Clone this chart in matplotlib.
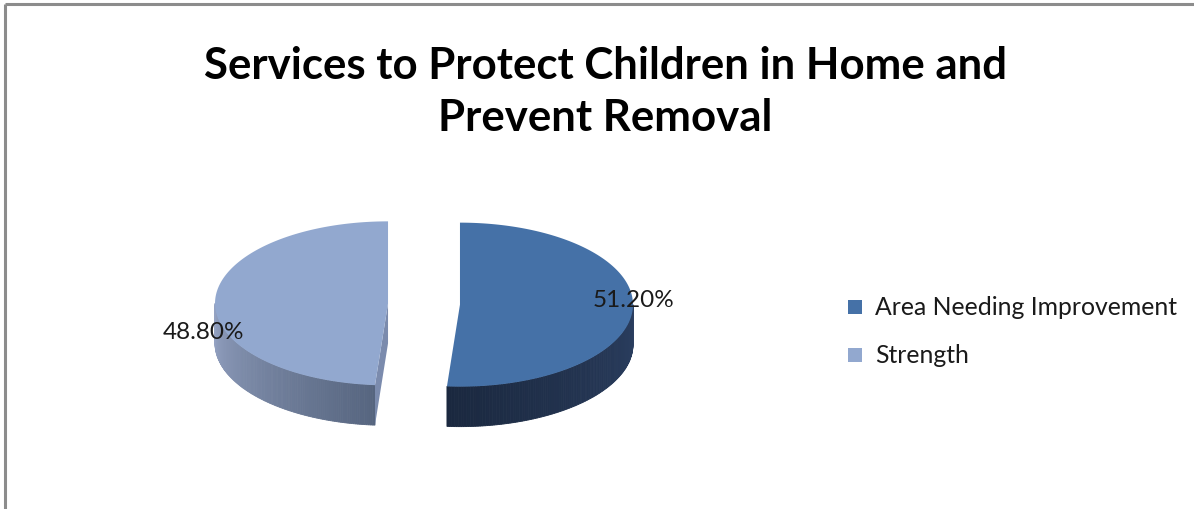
import numpy as np
import matplotlib

matplotlib.use("Agg")
import matplotlib.pyplot as plt
from matplotlib.patches import Polygon, Rectangle

TITLE = "Services to Protect Children in Home and\nPrevent Removal"
categories = ["Area Needing Improvement", "Strength"]
values = [51.2, 48.8]

TOP_COLORS = ["#4571A7", "#92A8CF"]
WALL_LEFT = ["#2B3F61", "#94A2C2"]
WALL_RIGHT = ["#1A283F", "#56657F"]
CUT_COLOR = "#7B8BAD"

# pie geometry in pixel space (y grows downwards)
CX, CY = 424, 305
RX, RY = 173, 82
DEPTH = 40
EXPLODE = 36

FONT = ["Lato", "DejaVu Sans"]


def rim(cx, cy, phi):
    # phi in degrees, clockwise from 12 o'clock
    p = np.radians(phi)
    return cx + RX * np.sin(p), cy - RY * np.cos(p)


def mix(c1, c2, t):
    a = np.array(matplotlib.colors.to_rgb(c1))
    b = np.array(matplotlib.colors.to_rgb(c2))
    return tuple(a + (b - a) * t)


fig = plt.figure(figsize=(11.94, 5.10), dpi=100)
ax = fig.add_axes([0, 0, 1, 1])
ax.set_xlim(0, 1194)
ax.set_ylim(510, 0)
ax.axis("off")

# chart frame (top and left edges only)
ax.plot([5, 1194], [5, 5], color="#8C8C8C", lw=2.2, solid_capstyle="butt")
ax.plot([5, 5], [5, 510], color="#8C8C8C", lw=2.2, solid_capstyle="butt")

total = sum(values)
start = 0.0
slices = []
for i, v in enumerate(values):
    sweep = 360.0 * v / total
    mid = start + sweep / 2
    cx = CX + EXPLODE * np.sin(np.radians(mid))
    cy = CY - EXPLODE * RY / RX * np.cos(np.radians(mid))
    slices.append((i, start, start + sweep, mid, cx, cy))
    start += sweep

for i, a0, a1, mid, cx, cy in slices:
    # outer wall, only the part facing the viewer (90..270 deg)
    w0, w1 = max(a0, 90.0), min(a1, 270.0)
    if w1 > w0:
        phis = np.linspace(w0, w1, 120)
        for k in range(len(phis) - 1):
            x0, y0 = rim(cx, cy, phis[k])
            x1, y1 = rim(cx, cy, phis[k + 1])
            t = (k + 0.5) / (len(phis) - 1)
            if i == 1:
                t = 1 - t
            col = mix(WALL_LEFT[i], WALL_RIGHT[i], t)
            ax.add_patch(Polygon([(x0, y0), (x1, y1), (x1, y1 + DEPTH), (x0, y0 + DEPTH)],
                                 closed=True, facecolor=col, edgecolor=col, lw=0.6))

    # cut face of the left slice along its first edge
    if i == 1:
        ex, ey = rim(cx, cy, a0)
        ax.add_patch(Polygon([(cx, cy), (ex, ey), (ex, ey + DEPTH), (cx, cy + DEPTH)],
                             closed=True, facecolor=CUT_COLOR, edgecolor="none"))

    # top face
    phis = np.linspace(a0, a1, 200)
    pts = [(cx, cy)] + [rim(cx, cy, p) for p in phis]
    ax.add_patch(Polygon(pts, closed=True, facecolor=TOP_COLORS[i], edgecolor="none"))

# percentage labels near the rim on each slice's bisector
label_offsets = [(1, -8), (-12, 31)]
for i, a0, a1, mid, cx, cy in slices:
    lx, ly = rim(cx, cy, mid)
    dx, dy = label_offsets[i]
    ax.text(lx + dx, ly + dy, f"{values[i]:.2f}%", ha="center", va="center",
            fontsize=17.5, color="#1A1A1A", family=FONT)

# title
ax.text(605, 92, TITLE, ha="center", va="center", fontsize=31.5, fontweight="bold",
        linespacing=1.38, color="black", family=FONT)

# legend
for i, name in enumerate(categories):
    y = 308 + i * 48
    ax.add_patch(Rectangle((848, y - 7), 14, 14, facecolor=TOP_COLORS[i], edgecolor="none"))
    ax.text(875, y, name, ha="left", va="center", fontsize=17.8, color="#1A1A1A", family=FONT)

fig.savefig("out.png", dpi=100)
